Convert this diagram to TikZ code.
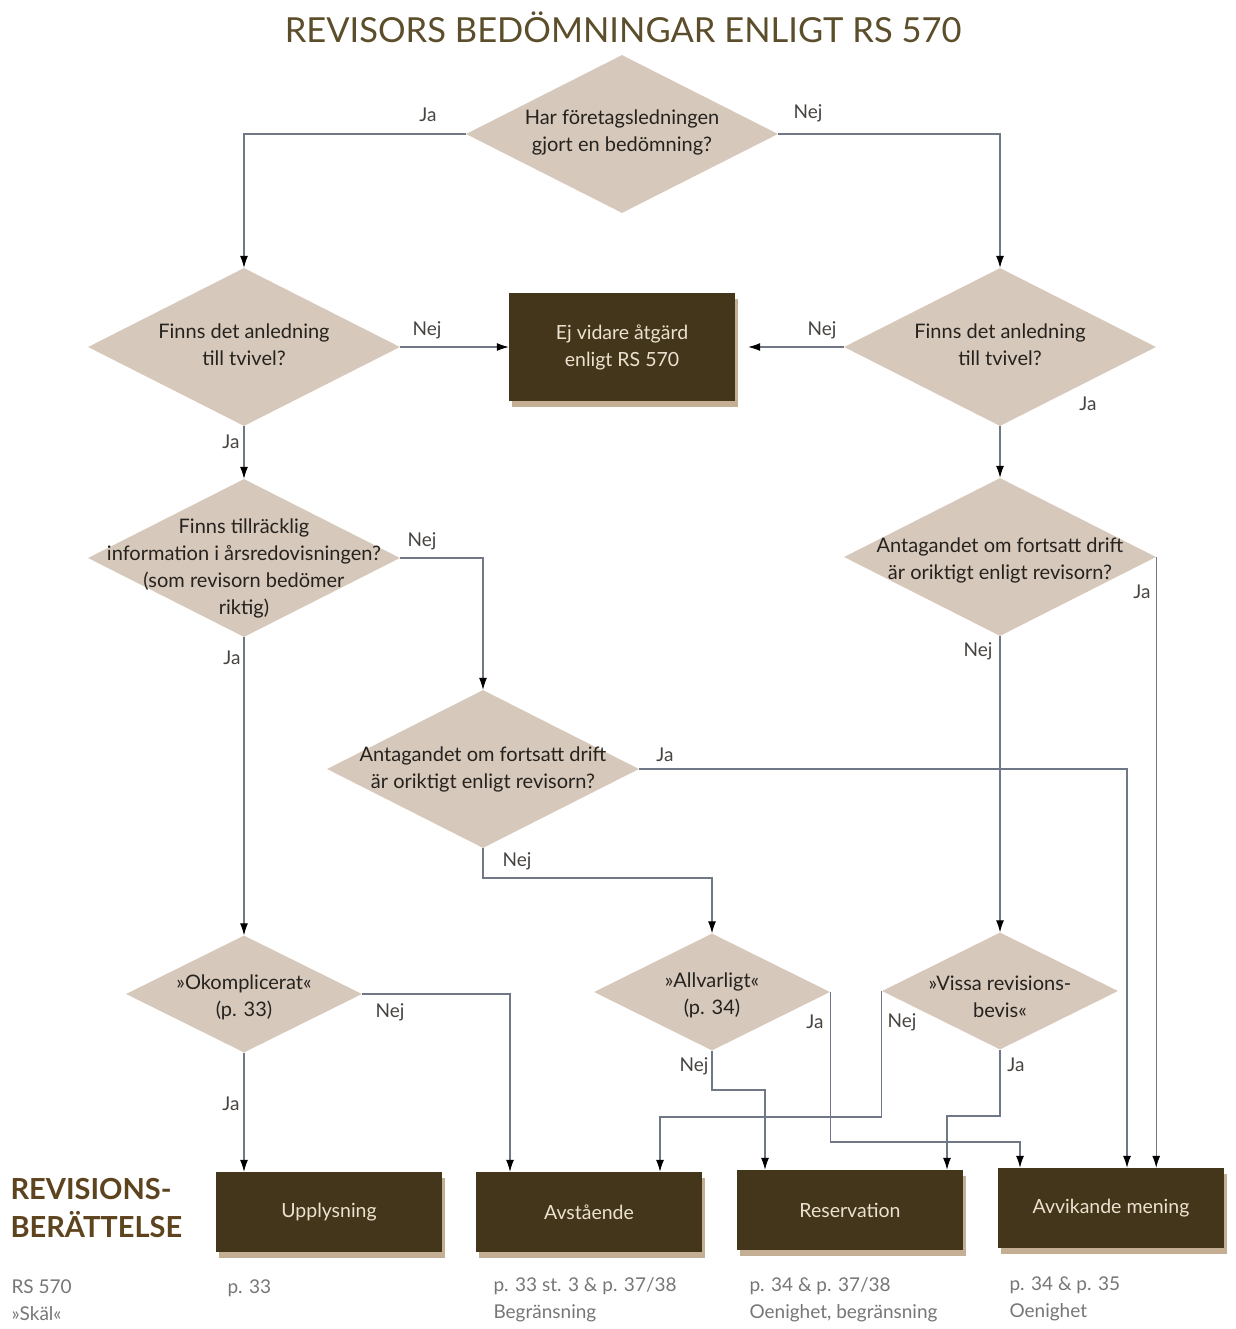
\documentclass[tikz,border=0pt]{standalone}
\usepackage{fontspec}
\setmainfont{Lato}
\usetikzlibrary{shapes.geometric,arrows.meta,shadows}

\definecolor{diafill}{RGB}{214,201,187}
\definecolor{boxfill}{RGB}{68,54,26}
\definecolor{boxtext}{RGB}{236,226,208}
\definecolor{shadowc}{RGB}{150,110,60}
\definecolor{linec}{RGB}{112,120,136}
\definecolor{dtext}{RGB}{38,34,30}
\definecolor{titlec}{RGB}{92,78,42}
\definecolor{headc}{RGB}{94,68,30}
\definecolor{capc}{RGB}{118,118,118}

\begin{document}
\begin{tikzpicture}[x=1pt,y=-1pt,
    bigdia/.style={diamond,fill=diafill,inner sep=0pt,minimum width=312pt,minimum height=158pt},
    smalldia/.style={diamond,fill=diafill,inner sep=0pt,minimum width=236pt,minimum height=117pt},
    dtxt/.style={align=center,text=dtext,font=\fontsize{20}{27}\selectfont},
    outbox/.style={rectangle,fill=boxfill,text=boxtext,minimum width=226pt,minimum height=80pt,
        font=\fontsize{19.5}{27}\selectfont,
        drop shadow={shadow xshift=3pt,shadow yshift=-6pt,fill=shadowc,opacity=.55}},
    flow/.style={draw=linec,line width=1.1pt,-{Latex[length=12pt,width=8pt,black]}},
    yn/.style={text=dtext!85,font=\fontsize{19}{23}\selectfont},
    captxt/.style={anchor=north west,align=left,text=capc,font=\fontsize{19}{27}\selectfont}]
    \useasboundingbox (0,0) rectangle (1235,1329);

    \node[text=titlec,font=\fontsize{34.5}{38}\selectfont] (title) at (623,27) {REVISORS BEDÖMNINGAR ENLIGT RS 570};

    % fragor
    \node[bigdia,label={[dtxt,yshift=2pt]center:Har företagsledningen\\gjort en bedömning?}] (d1) at (622,134) {};
    \node[bigdia,label={[dtxt,yshift=2pt]center:Finns det anledning\\till tvivel?}] (d2) at (244,347) {};
    \node[bigdia,label={[dtxt,yshift=2pt]center:Finns det anledning\\till tvivel?}] (d3) at (1000,347) {};
    \node[bigdia,label={[dtxt,yshift=-10pt]center:Finns tillräcklig\\information i årsredovisningen?\\(som revisorn bedömer\\riktig)}] (d4) at (244,558) {};
    \node[bigdia,label={[dtxt,yshift=-3pt]center:Antagandet om fortsatt drift\\är oriktigt enligt revisorn?}] (d5) at (1000,557) {};
    \node[bigdia,label={[dtxt]center:Antagandet om fortsatt drift\\är oriktigt enligt revisorn?}] (d6) at (483,769) {};
    \node[smalldia,label={[dtxt,yshift=-3pt]center:»Okomplicerat«\\(p. 33)}] (d7) at (244,994) {};
    \node[smalldia,label={[dtxt,yshift=-3pt]center:»Allvarligt«\\(p. 34)}] (d8) at (712,992) {};
    \node[smalldia,label={[dtxt,yshift=-6pt]center:»Vissa revisions-\\bevis«}] (d9) at (1000,991) {};

    % utfall
    \node[outbox,minimum height=107pt,align=center] (ej) at (622,347) {Ej vidare åtgärd\\enligt RS 570};
    \node[outbox] (upp) at (329,1212) {Upplysning};
    \node[outbox] (avs) at (589,1212) {Avstående};
    \node[outbox] (res) at (850,1210) {Reservation};
    \node[outbox] (avv) at (1111,1208) {Avvikande mening};

    % pilar
    \draw[flow] (d1.west) -| (d2.north);
    \draw[flow] (d1.east) -| (d3.north);
    \draw[flow] (d2.east) -- (ej.west);
    \draw[flow] (d3.west) -- ([xshift=13pt]ej.east);
    \draw[flow] (d2.south) -- (d4.north);
    \draw[flow] (d3.south) -- (d5.north);
    \draw[flow] (d4.east) -| (d6.north);
    \draw[flow] (d4.south) -- (d7.north);
    \draw[flow] (d5.south) -- (d9.north);
    \draw[flow] (d5.east) -- (d5.east |- avv.north);
    \coordinate (j6ja) at (1127,769);
    \draw[flow] (d6.east) -- (j6ja) -- (j6ja |- avv.north);
    \coordinate (j6nej) at (712,878);
    \draw[flow] (d6.south) |- (j6nej) -- (d8.north);
    \coordinate (j7nej) at (510,994);
    \draw[flow] (d7.east) -- (j7nej) -- (j7nej |- avs.north);
    \draw[flow] (d7.south) -- (d7.south |- upp.north);
    \coordinate (j8ja) at (1020,1142);
    \draw[flow] (d8.east) |- (j8ja) -- (j8ja |- avv.north);
    \coordinate (j8nej) at (765,1090);
    \draw[flow] (d8.south) |- (j8nej) -- (j8nej |- res.north);
    \coordinate (j9nej) at (660,1117);
    \draw[flow] (d9.west) |- (j9nej) -- (j9nej |- avs.north);
    \coordinate (j9ja) at (947,1116);
    \draw[flow] (d9.south) |- (j9ja) -- (j9ja |- res.north);

    % ja / nej
    \node[yn] (ja1) at (428,115) {Ja};
    \node[yn] (nej1) at (808,113) {Nej};
    \node[yn] (nej2) at (427,330) {Nej};
    \node[yn] (nej3) at (822,330) {Nej};
    \node[yn] (ja2) at (231,442) {Ja};
    \node[yn] (ja3) at (1088,404) {Ja};
    \node[yn] (nej4) at (422,541) {Nej};
    \node[yn] (ja5) at (1142,592) {Ja};
    \node[yn] (ja4) at (232,658) {Ja};
    \node[yn] (nej5) at (978,651) {Nej};
    \node[yn] (ja6) at (665,755) {Ja};
    \node[yn] (nej6) at (517,861) {Nej};
    \node[yn] (nej7) at (390,1012) {Nej};
    \node[yn] (ja7) at (231,1104) {Ja};
    \node[yn] (ja8) at (815,1022) {Ja};
    \node[yn] (nej8) at (694,1066) {Nej};
    \node[yn] (nej9) at (902,1022) {Nej};
    \node[yn] (ja9) at (1016,1065) {Ja};

    % rubrik och hanvisningar
    \node[anchor=north west,align=left,text=headc,font=\bfseries\fontsize{29}{38}\selectfont] (rb) at (7,1175) {REVISIONS-\\BERÄTTELSE};
    \node[captxt] (skal) at (8,1276) {RS 570\\»Skäl«};
    \node[captxt] (capupp) at (224,1276) {p. 33};
    \node[captxt] (capavs) at (490,1274) {p. 33 st. 3 \& p. 37/38\\Begränsning};
    \node[captxt] (capres) at (746,1274) {p. 34 \& p. 37/38\\Oenighet, begränsning};
    \node[captxt] (capavv) at (1006,1273) {p. 34 \& p. 35\\Oenighet};
\end{tikzpicture}
\end{document}
